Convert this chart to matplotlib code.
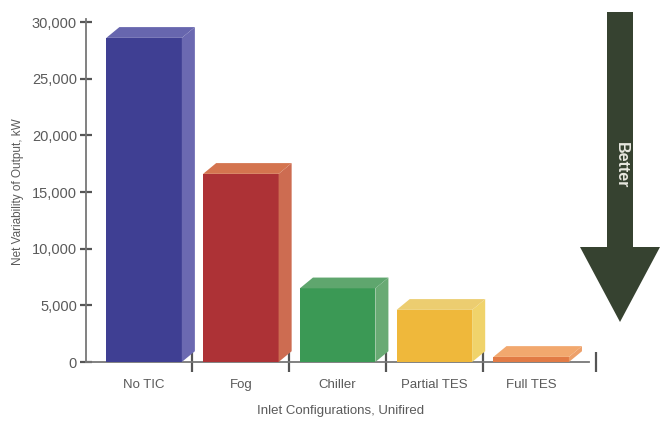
import matplotlib.pyplot as plt
from matplotlib.patches import Polygon
from matplotlib.ticker import FuncFormatter
import numpy as np

plt.rcParams['font.family'] = ['Liberation Sans', 'DejaVu Sans']

categories = ["No TIC", "Fog", "Chiller", "Partial TES", "Full TES"]
values = [28600, 16600, 6500, 4600, 450]
front_colors = ["#3f3f93", "#ad3236", "#3b9955", "#efb83b", "#e27b45"]
side_colors = ["#6b69b1", "#cd6c51", "#69aa74", "#f0d36b", "#eda06a"]
top_colors = ["#6766ae", "#d4744f", "#5fa66e", "#eccd70", "#f2a86e"]

fig = plt.figure(figsize=(6.61, 4.21), dpi=100)
ax = fig.add_axes([86 / 661, 59 / 421, 510 / 661, 340 / 421])

x = np.arange(len(categories))
width = 0.78
dx, dy = 0.135, 950  # fake depth of the 3d look

for xi, v, fc, sc, tc in zip(x, values, front_colors, side_colors, top_colors):
    l, r = xi - width / 2, xi + width / 2
    ax.add_patch(Polygon([(l, 0), (r, 0), (r, v), (l, v)], closed=True, fc=fc, ec="none", zorder=3))
    ax.add_patch(Polygon([(r, 0), (r + dx, dy), (r + dx, v + dy), (r, v)], closed=True, fc=sc, ec="none", zorder=3))
    ax.add_patch(Polygon([(l, v), (r, v), (r + dx, v + dy), (l + dx, v + dy)], closed=True, fc=tc, ec="none", zorder=3))

ax.set_xlim(-0.6, 4.67)
ax.set_ylim(0, 30000)
ax.set_yticks(range(0, 30001, 5000))
ax.yaxis.set_major_formatter(FuncFormatter(lambda v, p: f"{int(v):,}"))
ax.set_xticks(x)
ax.set_xticklabels(categories)
ax.set_xticks([0.5, 1.5, 2.5, 3.5, 4.67], minor=True)

for s in ["top", "right"]:
    ax.spines[s].set_visible(False)
for s in ["left", "bottom"]:
    ax.spines[s].set_color("#777777")
    ax.spines[s].set_linewidth(1.3)
ax.spines["left"].set_bounds(0, 30300)
ax.spines["bottom"].set_bounds(-0.6, 4.6)

ax.tick_params(axis="y", direction="inout", length=9, width=1.6, color="#555555",
               labelsize=10.5, labelcolor="#5a5a5a", pad=2)
ax.tick_params(axis="x", which="major", length=0, labelsize=9.5, labelcolor="#5a5a5a", pad=12)
ax.tick_params(axis="x", which="minor", direction="inout", length=14, width=1.6, color="#555555")

ax.set_ylabel("Net Variability of Output, kW", fontsize=8.5, color="#5a5a5a", labelpad=6)
ax.set_xlabel("Inlet Configurations, Unifired", fontsize=9.5, color="#5a5a5a", labelpad=10)

# the "Better" arrow on the right
arrow_pts = [(607, 12), (633, 12), (633, 247), (660, 247), (620, 322), (580, 247), (607, 247)]
arrow = Polygon([(px / 661, 1 - py / 421) for px, py in arrow_pts], closed=True,
                fc="#364230", ec="none", transform=fig.transFigure)
fig.patches.append(arrow)
fig.text(621 / 661, 1 - 165 / 421, "Better", rotation=-90, ha="center", va="center",
         color="#e8e8e0", fontsize=11.5, fontweight="bold")

fig.savefig("out.png", dpi=100)
